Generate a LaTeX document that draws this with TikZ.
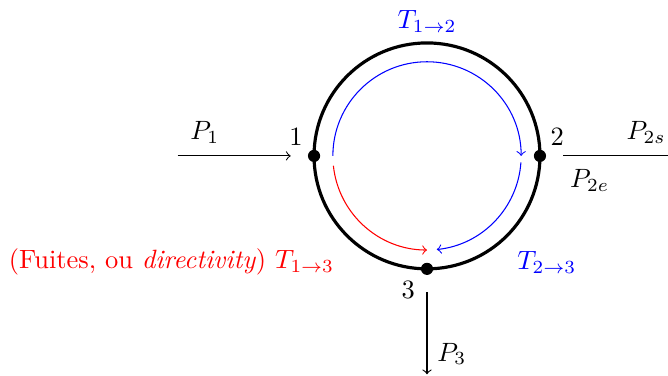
\documentclass[tikz,border=0pt]{standalone}
\usepackage{tikz}

\tikzset{
  port/.style={circle, fill=black, inner sep=0pt, minimum size=4.6pt},
}

\begin{document}
\begin{tikzpicture}[line width=0.4pt]

\useasboundingbox (-5.67, -2.92) rectangle (3.20, 2.07);

% ============================================================
%  Coupler ring  --  radius 1.5, ports at 180, 0, 270
% ============================================================
\draw[line width=1.2pt] (0,0) circle (1.5);

\node[port] (n1) at (180:1.5) {};
\node[port] (n2) at (0:1.5) {};
\node[port] (n3) at (270:1.5) {};

\node (lab1) at (-1.74, 0.25) {1};
\node (lab2) at (1.73, 0.25) {2};
\node (lab3) at (-0.25, -1.78) {3};

% ---- transfers inside the ring (r = 1.25) ----
\draw[blue, ->] (180:1.25) arc (180:0:1.25);
\draw[blue, ->] (-4:1.25) arc (-4:-84:1.25);
\draw[red, ->] (186:1.25) arc (186:270:1.25);

\node[blue] (t12) at (0, 1.78) {$T_{1\to2}$};
\node[blue] (t23) at (1.59, -1.41) {$T_{2\to3}$};
\node[red, anchor=east] (t13) at (-1.11, -1.41) {(Fuites, ou \emph{directivity}) $T_{1\to3}$};

% ---- port accesses ----
\coordinate (a1) at (-3.31, 0);
\coordinate (b1) at (-1.81, 0);
\coordinate (a2) at (1.81, 0);
\coordinate (b2) at (3.20, 0);
\coordinate (a3) at (0, -1.81);
\coordinate (b3) at (0, -2.90);

\draw[->] (a1) -- (b1);
\draw (a2) -- (b2);
\draw[->] (a3) -- (b3);

\node (pw1) at (-2.95, 0.31) {$P_1$};
\node (pw2s) at (2.91, 0.31) {$P_{2s}$};
\node (pw2e) at (2.16, -0.32) {$P_{2e}$};
\node (pw3) at (0.33, -2.63) {$P_3$};

\end{tikzpicture}
\end{document}
